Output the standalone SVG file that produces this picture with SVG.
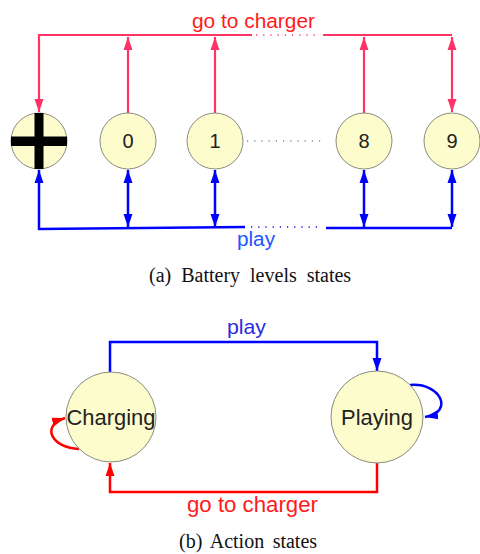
<svg xmlns="http://www.w3.org/2000/svg" width="480" height="554" viewBox="0 0 480 554">
<style>
.node{fill:#fcfccc;stroke:#8a8a80;stroke-width:1}
.lbl{font-family:"Liberation Sans",Arial,sans-serif;fill:#222;text-anchor:middle}
.red{fill:none;stroke:#ff3366;stroke-width:2.2}
.blue{fill:none;stroke:#0000ff;stroke-width:2.5}
.red2{fill:none;stroke:#ff0000;stroke-width:2.5}
.dotr{fill:none;stroke:#ff3366;stroke-width:1.5;stroke-dasharray:1.2 6}
.dotb{fill:none;stroke:#0000ff;stroke-width:1.5;stroke-dasharray:1.2 6}
.dotg{fill:none;stroke:#888;stroke-width:1.3;stroke-dasharray:1.2 6}
.cap{font-family:"Liberation Serif","Times New Roman",serif;font-size:20px;fill:#111}
.sans{font-family:"Liberation Sans",Arial,sans-serif}
</style>
<defs>
<marker id="ar" markerUnits="userSpaceOnUse" markerWidth="14" markerHeight="10" viewBox="0 0 14 10" refX="13" refY="5" orient="auto-start-reverse"><path d="M0,0.5 L13,5 L0,9.5 z" fill="#ff3366"/></marker>
<marker id="ab" markerUnits="userSpaceOnUse" markerWidth="14" markerHeight="10" viewBox="0 0 14 10" refX="13" refY="5" orient="auto-start-reverse"><path d="M0,0.5 L13,5 L0,9.5 z" fill="#0000ff"/></marker>
<marker id="ar2" markerUnits="userSpaceOnUse" markerWidth="14" markerHeight="10" viewBox="0 0 14 10" refX="13" refY="5" orient="auto-start-reverse"><path d="M0,0.5 L13,5 L0,9.5 z" fill="#ff0000"/></marker>
</defs>

<g id="connectors">
<!-- top red -->
<path class="red" d="M252,35 H39 V112" marker-end="url(#ar)"/>
<path class="dotr" d="M256,35 H321"/>
<path class="red" d="M323,35 H452"/>
<path class="red" d="M128,113 V37" marker-end="url(#ar)"/>
<path class="red" d="M215,113 V37" marker-end="url(#ar)"/>
<path class="red" d="M364,113 V37" marker-end="url(#ar)"/>
<path class="red" d="M452,37 V112" marker-start="url(#ar)" marker-end="url(#ar)"/>
<!-- top blue -->
<path class="blue" d="M245,227 L39,229 V170" marker-end="url(#ab)"/>
<path class="dotb" d="M251,227 H321"/>
<path class="blue" d="M326,228 H452"/>
<path class="blue" d="M128,170 V227" marker-start="url(#ab)" marker-end="url(#ab)"/>
<path class="blue" d="M215,170 V227" marker-start="url(#ab)" marker-end="url(#ab)"/>
<path class="blue" d="M364,170 V227" marker-start="url(#ab)" marker-end="url(#ab)"/>
<path class="blue" d="M452,170 V227" marker-start="url(#ab)" marker-end="url(#ab)"/>
<path class="dotg" d="M247,141 H326"/>
<!-- bottom -->
<path class="blue" d="M110,372 V342 H377 V371" marker-end="url(#ab)"/>
<path class="red2" d="M377,462 V492 H110 V463" marker-end="url(#ar2)"/>
<path class="red2" d="M79,449 C52,448 40,426 65,418" marker-end="url(#ar2)"/>
<path class="blue" d="M410,385 C440,382 455,412 425,417" marker-end="url(#ab)"/>
</g>

<g id="node-plus">
<circle class="node" cx="39" cy="141" r="28"/>
<rect x="34.5" y="113" width="9" height="56" fill="#000"/>
<rect x="11" y="136.5" width="56" height="9.5" fill="#000"/>
</g>
<g id="node-0"><circle class="node" cx="128" cy="141" r="28"/><text class="lbl" x="128" y="148" font-size="20">0</text></g>
<g id="node-1"><circle class="node" cx="215" cy="141" r="28"/><text class="lbl" x="215" y="148" font-size="20">1</text></g>
<g id="node-8"><circle class="node" cx="364" cy="141" r="28"/><text class="lbl" x="364" y="148" font-size="20">8</text></g>
<g id="node-9"><circle class="node" cx="452" cy="141" r="28"/><text class="lbl" x="452" y="148" font-size="20">9</text></g>

<g id="node-charging"><circle class="node" cx="111" cy="417" r="45"/><text class="lbl" x="111" y="425" font-size="22" textLength="89" lengthAdjust="spacingAndGlyphs">Charging</text></g>
<g id="node-playing"><circle class="node" cx="377" cy="417" r="46"/><text class="lbl" x="377" y="425" font-size="22" textLength="72" lengthAdjust="spacingAndGlyphs">Playing</text></g>

<g id="labels">
<text class="sans" x="192" y="28" font-size="20.5" fill="#ff1a1a" textLength="123" lengthAdjust="spacingAndGlyphs">go to charger</text>
<text class="sans" x="237" y="246" font-size="20.5" fill="#1a55ff" textLength="38" lengthAdjust="spacingAndGlyphs">play</text>
<text class="sans" x="227" y="334" font-size="21" fill="#2a2ae0" textLength="39" lengthAdjust="spacingAndGlyphs">play</text>
<text class="sans" x="187" y="512" font-size="22" fill="#ff1a1a" textLength="131" lengthAdjust="spacingAndGlyphs">go to charger</text>
<text class="cap" x="149" y="282" word-spacing="5">(a) Battery levels states</text>
<text class="cap" x="179" y="548" word-spacing="3.5">(b) Action states</text>
</g>
</svg>
